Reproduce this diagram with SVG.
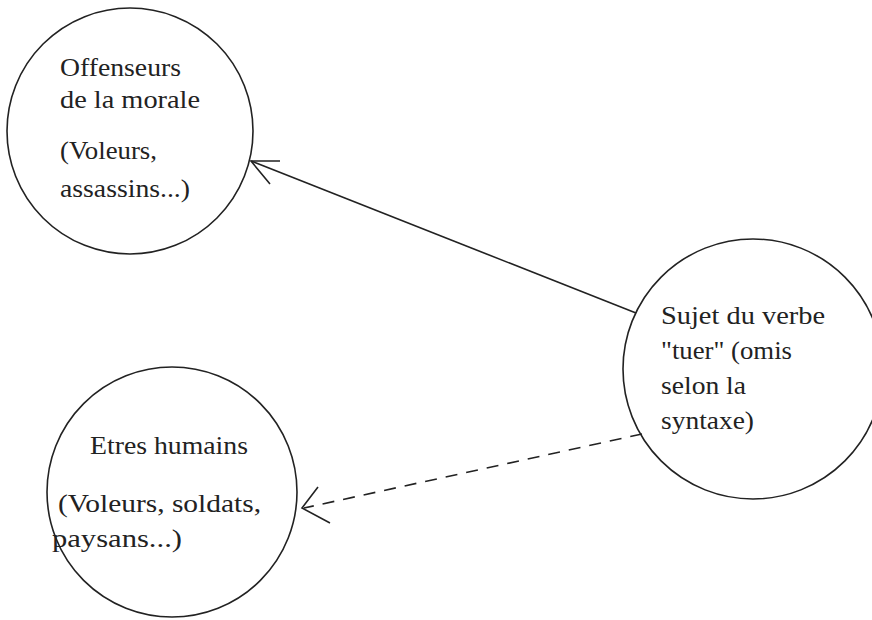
<svg xmlns="http://www.w3.org/2000/svg" width="872" height="620" viewBox="0 0 872 620">
<style>
.node{fill:none;stroke:#222;stroke-width:1.6}
.lbl{font-family:"Liberation Serif","Times New Roman",serif;font-size:26px;fill:#222}
.edge{fill:none;stroke:#222;stroke-width:1.6}
.dash{stroke-dasharray:12 9}
</style>
<rect width="872" height="620" fill="#fff"/>
<g id="connectors">
<line class="edge" x1="636" y1="313" x2="251" y2="161"/>
<polyline class="edge" points="280,161 251,161 270,184"/>
<line class="edge dash" x1="642" y1="434" x2="304" y2="508"/>
<polyline class="edge" points="318,487 302,508 330,523"/>
</g>
<g id="offenseurs">
<circle class="node" cx="130" cy="131" r="123"/>
<text class="lbl" x="60" y="76" textLength="121" lengthAdjust="spacingAndGlyphs">Offenseurs</text>
<text class="lbl" x="60" y="108" textLength="140" lengthAdjust="spacingAndGlyphs">de la morale</text>
<text class="lbl" x="60" y="159" textLength="97" lengthAdjust="spacingAndGlyphs">(Voleurs,</text>
<text class="lbl" x="60" y="197" textLength="130" lengthAdjust="spacingAndGlyphs">assassins...)</text>
</g>
<g id="etres">
<circle class="node" cx="172" cy="492" r="125"/>
<text class="lbl" x="90" y="454" textLength="158" lengthAdjust="spacingAndGlyphs">Etres humains</text>
<text class="lbl" x="58" y="512" textLength="203" lengthAdjust="spacingAndGlyphs">(Voleurs, soldats,</text>
<text class="lbl" x="52" y="547" textLength="130" lengthAdjust="spacingAndGlyphs">paysans...)</text>
</g>
<g id="sujet">
<circle class="node" cx="753" cy="369" r="130"/>
<text class="lbl" x="661" y="324" textLength="164" lengthAdjust="spacingAndGlyphs">Sujet du verbe</text>
<text class="lbl" x="661" y="359" textLength="131" lengthAdjust="spacingAndGlyphs">"tuer" (omis</text>
<text class="lbl" x="661" y="394" textLength="85" lengthAdjust="spacingAndGlyphs">selon la</text>
<text class="lbl" x="661" y="429" textLength="93" lengthAdjust="spacingAndGlyphs">syntaxe)</text>
</g>
</svg>
